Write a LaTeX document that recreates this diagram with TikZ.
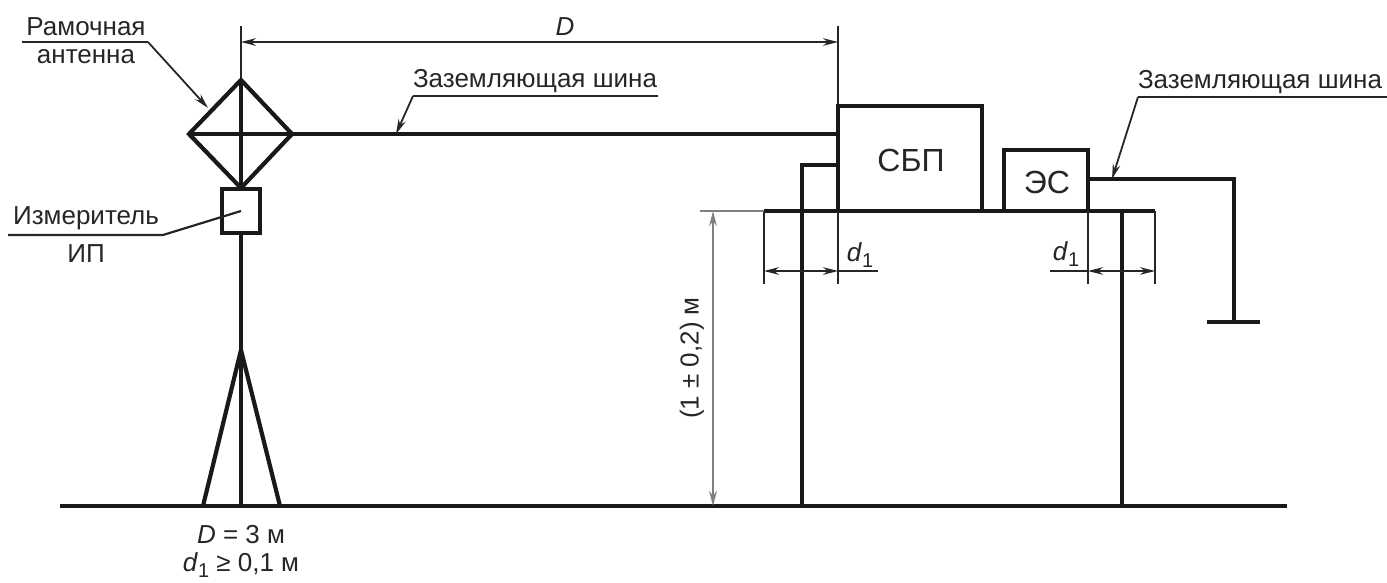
\documentclass[tikz,border=0pt]{standalone}
\usepackage{fontspec}
\setmainfont{Liberation Sans}
\usetikzlibrary{arrows.meta}
\newcommand{\dsub}{\textit{d}\raisebox{-0.4ex}{\fontsize{10}{12}\selectfont 1}}
\begin{document}
\begin{tikzpicture}[x=0.5pt,y=-0.5pt,
  thick line/.style={line width=2.1pt,line join=miter,color=black!90},
  mid line/.style={line width=1.8pt,color=black!90},
  thin line/.style={line width=0.9pt,color=black!85},
  leader/.style={line width=1.1pt,color=black!85},
  grey line/.style={line width=1.4pt,color=black!50},
  dim/.style={thin line,{Stealth[length=7.5pt,width=3.8pt]}-{Stealth[length=7.5pt,width=3.8pt]}},
  tip/.style={thin line,-{Stealth[length=7.5pt,width=3.8pt]}},
  lbl/.style={font=\fontsize{13}{15}\selectfont,color=black!85,inner sep=0pt},
  biglbl/.style={font=\fontsize{16}{18}\selectfont,color=black!85,inner sep=0pt},
  box/.style={draw,thick line,fill=white,inner sep=0pt,outer sep=0pt,anchor=north west}]
\useasboundingbox (0,0) rectangle (1387,583);
% coordinates
\coordinate (top) at (241,26);
\coordinate (dt) at (241,80);
\coordinate (dl) at (189,134);
\coordinate (dr) at (292,134);
\coordinate (db) at (241,188);
\coordinate (mastt) at (241,233);
\coordinate (mastb) at (241,506);
\coordinate (apex) at (241,350);
\coordinate (legl) at (203,506);
\coordinate (legr) at (280,506);
\coordinate (g1) at (60,506);
\coordinate (g2) at (1287,506);
\coordinate (t1) at (764,211);
\coordinate (t2) at (1155,211);
\coordinate (w1) at (838,134);
\coordinate (dtop) at (838,26);
\coordinate (dtopb) at (838,105);
% ground
\draw[thick line] (g1) -- (g2);
% mast & antenna
\draw[thin line] (top) -- (dt);
\draw[thick line] (dt) -- (dr) -- (db) -- (dl) -- cycle;
\draw[mid line] (dt) -- (db);
\draw[thick line] (dl) -- (w1);
\draw[mid line] (mastt) -- (mastb);
\draw[thick line] (apex) -- (legl);
\draw[thick line] (apex) -- (legr);
\node[box,minimum width=19pt,minimum height=22pt] (ip) at (222,189) {};
% table
\coordinate (ll1) at (802,506);
\coordinate (ll2) at (802,165);
\coordinate (ll3) at (838,165);
\coordinate (rl1) at (1122,211);
\coordinate (rl2) at (1122,506);
\draw[thick line] (ll1) -- (ll2) -- (ll3);
\draw[mid line] (rl1) -- (rl2);
\draw[thick line] (t1) -- (t2);
% boxes
\node[box,minimum width=72pt,minimum height=52.5pt] (sbp) at (838,106) {};
\node[biglbl] (sbpl) at (911,160) {СБП};
\node[box,minimum width=42pt,minimum height=30.5pt] (es) at (1004,150) {};
\node[biglbl] (esl) at (1047,182) {ЭС};
% right bus
\coordinate (b0) at (1088,179);
\coordinate (b1) at (1234,179);
\coordinate (b2) at (1234,322);
\coordinate (b3) at (1207,322);
\coordinate (b4) at (1260,322);
\draw[thick line] (b0) -- (b1) -- (b2);
\draw[thick line] (b3) -- (b4);
% extension lines
\coordinate (e1a) at (764,211); \coordinate (e1b) at (764,284);
\coordinate (e2a) at (838,211); \coordinate (e2b) at (838,284);
\coordinate (e3a) at (1088,211); \coordinate (e3b) at (1088,284);
\coordinate (e4a) at (1155,211); \coordinate (e4b) at (1155,284);
\coordinate (e5) at (700,211);
\draw[thin line] (dtop) -- (dtopb);
\draw[thin line] (e1a) -- (e1b);
\draw[thin line] (e2a) -- (e2b);
\draw[thin line] (e3a) -- (e3b);
\draw[thin line] (e4a) -- (e4b);
\draw[grey line,line width=1pt] (e5) -- (t1);
% dimensions
\coordinate (da) at (241,42); \coordinate (db2) at (838,42);
\coordinate (d1l) at (764,271); \coordinate (d1r) at (838,271); \coordinate (d1e) at (878,271);
\coordinate (d2l) at (1088,271); \coordinate (d2r) at (1155,271); \coordinate (d2e) at (1050,271);
\coordinate (ha) at (713,211); \coordinate (hb) at (713,506);
\draw[dim] (da) -- (db2);
\node[lbl,font=\fontsize{13}{15}\selectfont\itshape] (dlab) at (565,27) {D};
\draw[dim] (d1l) -- (d1r);
\draw[thin line] (d1r) -- (d1e);
\draw[dim] (d2l) -- (d2r);
\draw[thin line] (d2e) -- (d2l);
\draw[grey line,{Stealth[length=7.5pt,width=3.8pt]}-{Stealth[length=7.5pt,width=3.8pt]}] (ha) -- (hb);
\node[lbl,rotate=90] (h) at (692,358) {(1 ± 0,2) м};
\node[lbl] (d1a) at (860,255) {\dsub};
\node[lbl] (d1b) at (1066,254) {\dsub};
% leaders
\coordinate (r1) at (22,42); \coordinate (r2) at (148,42); \coordinate (r3) at (208,108);
\draw[leader] (r1) -- (r2);
\draw[tip] (r2) -- (r3);
\node[lbl] (ra) at (86,27) {Рамочная};
\node[lbl] (an) at (86,57) {антенна};
\coordinate (i1) at (8,235); \coordinate (i2) at (163,235); \coordinate (i3) at (241,211);
\draw[leader] (i1) -- (i2) -- (i3);
\node[lbl] (iz) at (86,218) {Измеритель};
\node[lbl] (in) at (86,254) {ИП};
\coordinate (z1a) at (658,96); \coordinate (z1b) at (413,96); \coordinate (z1c) at (396,134);
\draw[leader] (z1a) -- (z1b);
\draw[tip] (z1b) -- (z1c);
\node[lbl] (z1) at (535,81) {Заземляющая шина};
\coordinate (z2a) at (1387,97); \coordinate (z2b) at (1138,97); \coordinate (z2c) at (1112,179);
\draw[leader] (z2a) -- (z2b);
\draw[tip] (z2b) -- (z2c);
\node[lbl] (z2) at (1260,82) {Заземляющая шина};
% notes
\node[lbl] (n1) at (241,535) {\textit{D} = 3 м};
\node[lbl] (n2) at (241,565) {\dsub{} ≥ 0,1 м};
\end{tikzpicture}
\end{document}
